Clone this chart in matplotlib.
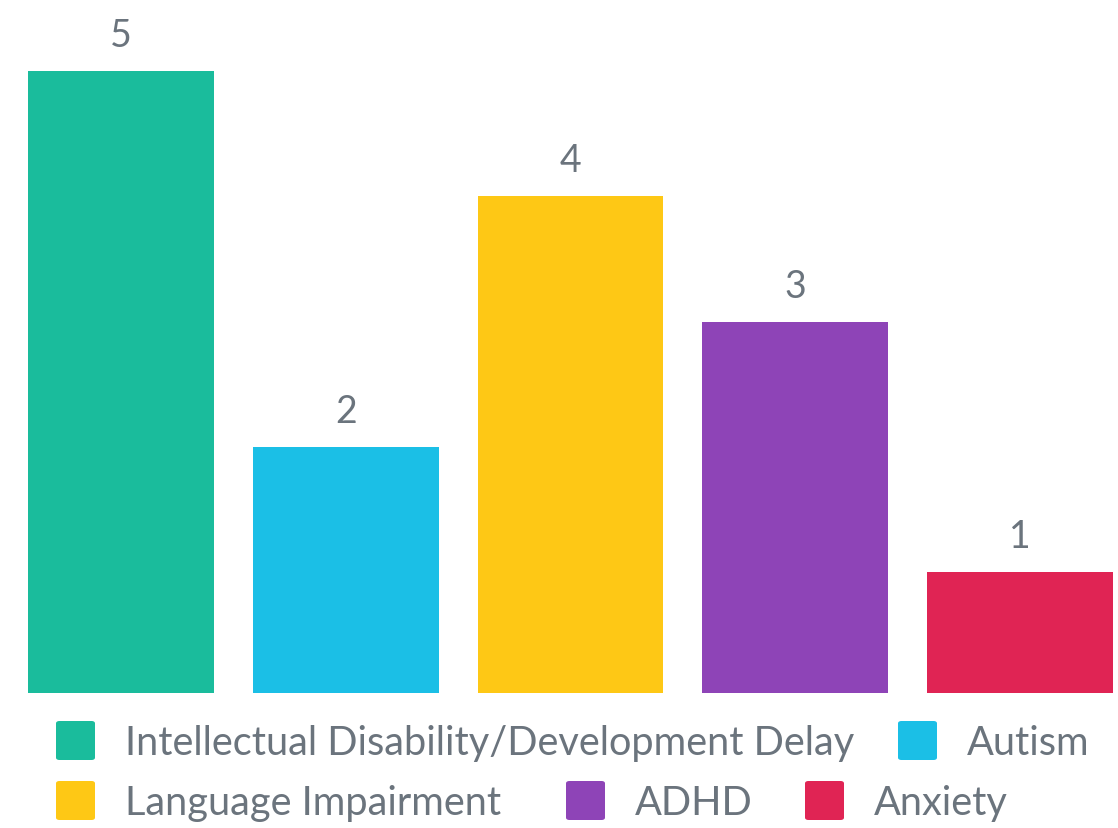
import matplotlib
matplotlib.use("Agg")
import matplotlib.pyplot as plt
from matplotlib.patches import FancyBboxPatch

categories = ["Intellectual Disability/Development Delay", "Autism",
              "Language Impairment", "ADHD", "Anxiety"]
values = [5, 2, 4, 3, 1]
colors = ["#1ABC9C", "#1BBFE6", "#FEC815", "#8E44B7", "#E02454"]

text_color = "#6B747D"
plt.rcParams['font.family'] = ['Lato', 'DejaVu Sans']

W, H = 1118, 829
base = 694.3
ppu = 125.3
ymin = 0.034
fig = plt.figure(figsize=(W / 100, H / 100), dpi=100)
ax = fig.add_axes([28 / W, (H - base) / H, (1113 - 28) / W, base / H])

x = list(range(len(categories)))
bw = 0.826
bars = ax.bar(x, values, width=bw, color=colors)
ax.set_xlim(-bw / 2, len(categories) - 1 + bw / 2)
ax.set_ylim(ymin, ymin + base / ppu)
ax.axis('off')

for b, v in zip(bars, values):
    ax.annotate(str(v), (b.get_x() + b.get_width() / 2, b.get_height()),
                xytext=(0, 13), textcoords='offset points',
                ha='center', va='bottom', fontsize=27, color=text_color)

# legend layout (pixel positions of box left and text baseline)
legend_pos = [(56, 755), (898, 755), (56, 815), (566, 815), (805, 815)]
box = 39
for (px, py), lab, c in zip(legend_pos, categories, colors):
    p = FancyBboxPatch((px / W, (H - py + 33 - box) / H), box / W, box / H,
                       boxstyle="round,pad=0,rounding_size=0.003",
                       transform=fig.transFigure, facecolor=c, edgecolor='none')
    fig.add_artist(p)
    fig.text((px + box + 30) / W, (H - py) / H, lab, ha='left', va='baseline',
             fontsize=28.6, color=text_color)

fig.savefig("out.png", dpi=100)
